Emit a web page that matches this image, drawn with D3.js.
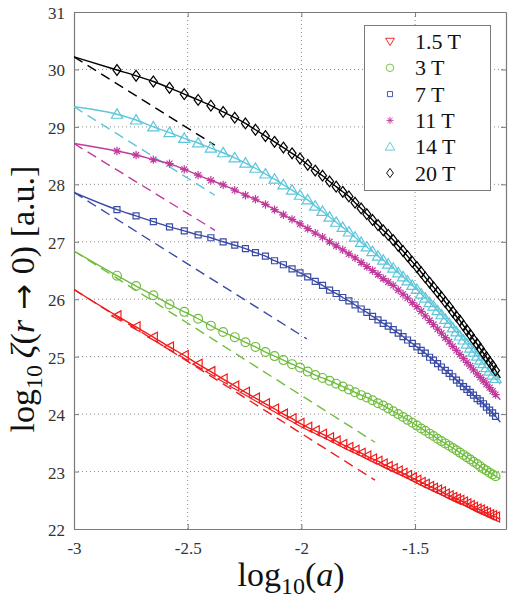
<!DOCTYPE html>
<html><head><meta charset="utf-8">
<script src="https://cdn.jsdelivr.net/npm/d3@7"></script>
<style>body{margin:0;background:#fff;}</style>
</head><body>
<svg id="chart" width="512" height="602"></svg>
<script>
// ---------------- data ----------------
const seriesNames = ["1.5 T", "3 T", "7 T", "11 T", "14 T", "20 T"];
const seriesColors = ["#f01c1c", "#70bd3e", "#3a4ca6", "#c03a9c", "#5ec6da", "#000000"];
const seriesMarkers = ["triLeft", "circle", "square", "star", "triUp", "diamond"];
const legendMarkers = ["triDown", "circle", "square", "star", "triUp", "diamond"];

// log10(a) positions of the markers (shared by all series)
const xMarkers = [-2.811,-2.727,-2.651,-2.580,-2.515,-2.454,-2.398,-2.344,-2.293,-2.246,
  -2.202,-2.158,-2.118,-2.079,-2.041,-2.006,-1.972,-1.939,-1.907,-1.876,
  -1.847,-1.818,-1.791,-1.764,-1.737,-1.712,-1.687,-1.663,-1.640,-1.618,
  -1.596,-1.574,-1.553,-1.533,-1.512,-1.492,-1.473,-1.455,-1.436,-1.419,
  -1.401,-1.384,-1.367,-1.350,-1.334,-1.318,-1.303,-1.287,-1.272,-1.257,
  -1.243,-1.227,-1.213,-1.199,-1.186,-1.172,-1.159,-1.146];

const y1p5T = [25.71,25.52,25.34,25.17,25.02,24.87,24.74,24.61,24.49,24.38,
  24.28,24.18,24.09,24.00,23.92,23.84,23.77,23.71,23.65,23.59,
  23.53,23.47,23.42,23.37,23.32,23.27,23.22,23.18,23.13,23.09,
  23.05,23.01,22.97,22.93,22.89,22.85,22.81,22.78,22.74,22.71,
  22.68,22.65,22.61,22.58,22.55,22.52,22.50,22.47,22.44,22.41,
  22.38,22.35,22.33,22.30,22.28,22.25,22.23,22.21];
const y3T = [26.41,26.23,26.07,25.91,25.78,25.66,25.54,25.43,25.34,25.25,
  25.17,25.08,25.01,24.94,24.87,24.81,24.74,24.68,24.63,24.58,
  24.53,24.48,24.43,24.38,24.33,24.29,24.24,24.19,24.15,24.10,
  24.05,24.00,23.95,23.90,23.85,23.80,23.75,23.71,23.66,23.62,
  23.57,23.53,23.49,23.45,23.41,23.37,23.33,23.29,23.25,23.21,
  23.17,23.13,23.09,23.05,23.02,22.98,22.95,22.92];
const y7T = [27.56,27.45,27.35,27.26,27.19,27.12,27.07,27.00,26.94,26.88,
  26.81,26.75,26.67,26.60,26.53,26.46,26.39,26.31,26.24,26.16,
  26.10,26.03,25.97,25.90,25.83,25.77,25.70,25.64,25.58,25.53,
  25.47,25.41,25.35,25.29,25.23,25.17,25.11,25.06,24.99,24.94,
  24.88,24.82,24.76,24.71,24.65,24.59,24.54,24.48,24.43,24.38,
  24.33,24.27,24.23,24.18,24.12,24.07,24.02,23.96];
const y11T = [28.58,28.51,28.43,28.36,28.26,28.16,28.07,27.99,27.90,27.81,
  27.74,27.65,27.56,27.47,27.39,27.31,27.23,27.15,27.08,27.00,
  26.93,26.86,26.79,26.72,26.64,26.57,26.50,26.43,26.36,26.30,
  26.24,26.16,26.09,26.02,25.94,25.87,25.79,25.71,25.63,25.56,
  25.48,25.41,25.33,25.26,25.18,25.11,25.04,24.97,24.90,24.84,
  24.77,24.70,24.64,24.58,24.52,24.46,24.40,24.34];
const y14T = [29.22,29.12,29.00,28.90,28.80,28.72,28.63,28.55,28.46,28.37,
  28.28,28.18,28.09,27.99,27.90,27.81,27.73,27.62,27.53,27.43,
  27.34,27.25,27.17,27.08,26.99,26.91,26.83,26.75,26.68,26.61,
  26.54,26.46,26.39,26.32,26.24,26.17,26.09,26.02,25.94,25.88,
  25.80,25.73,25.65,25.58,25.50,25.43,25.36,25.29,25.22,25.15,
  25.08,25.01,24.94,24.88,24.81,24.75,24.68,24.62];
const y20T = [29.99,29.89,29.79,29.68,29.57,29.47,29.37,29.26,29.16,29.06,
  28.95,28.84,28.74,28.64,28.54,28.45,28.34,28.24,28.15,28.05,
  27.96,27.87,27.79,27.68,27.58,27.48,27.38,27.29,27.20,27.12,
  27.03,26.93,26.84,26.75,26.65,26.56,26.47,26.38,26.29,26.21,
  26.12,26.04,25.95,25.87,25.78,25.70,25.63,25.54,25.46,25.38,
  25.30,25.22,25.14,25.06,24.99,24.91,24.84,24.76];
const seriesValues = [y1p5T, y3T, y7T, y11T, y14T, y20T];

// solid fitted lines: start and end
const lineStartX = -3, lineEndX = -1.125;
const lineStartY = [26.17, 26.84, 27.86, 28.71, 29.35, 30.22];
const lineEndY   = [22.17, 22.87, 23.86, 24.25, 24.52, 24.63];

// dashed asymptotes
const dashStartX = -3;
const dashEndX   = [-1.676, -1.676, -1.976, -2.38, -2.38, -2.38];
const dashStartY = [26.17, 26.84, 27.86, 28.71, 29.35, 30.22];
const dashEndY   = [22.85, 23.51, 25.31, 27.20, 27.81, 28.68];

const xTicks = [-3, -2.5, -2, -1.5];
const xTickLabels = ["-3", "-2.5", "-2", "-1.5"];
const yTicks = [22, 23, 24, 25, 26, 27, 28, 29, 30, 31];
const yTickLabels = ["22","23","24","25","26","27","28","29","30","31"];

// ---------------- drawing ----------------
const svg = d3.select("#chart");
const L = 74, R = 506, T = 12, B = 529;
const x = d3.scaleLinear().domain([-3, -1.1]).range([L, R]);
const y = d3.scaleLinear().domain([22, 31]).range([B, T]);
const serif = "'Liberation Serif','DejaVu Serif',serif";
const axisGray = "#7a7a7a";

svg.append("rect").attr("x",0).attr("y",0).attr("width",512).attr("height",602).attr("fill","#fff");

// grid
const grid = svg.append("g").attr("stroke", "#8a8a8a").attr("stroke-width", 1).attr("stroke-dasharray", "1,3");
xTicks.slice(1).forEach(t => grid.append("line").attr("x1", x(t)).attr("x2", x(t)).attr("y1", T).attr("y2", B));
yTicks.slice(1, -1).forEach(t => grid.append("line").attr("x1", L).attr("x2", R).attr("y1", y(t)).attr("y2", y(t)));

// axes with d3 axis generators (inward ticks)
const fmtX = (d, i) => xTickLabels[i];
const fmtY = (d, i) => yTickLabels[i];
const gx = svg.append("g").attr("transform", `translate(0,${B})`)
  .call(d3.axisBottom(x).tickValues(xTicks).tickFormat(fmtX).tickSizeInner(-5).tickSizeOuter(0).tickPadding(10));
const gy = svg.append("g").attr("transform", `translate(${L},0)`)
  .call(d3.axisLeft(y).tickValues(yTicks).tickFormat(fmtY).tickSizeInner(-5).tickSizeOuter(0).tickPadding(9));
const gxt = svg.append("g").attr("transform", `translate(0,${T})`)
  .call(d3.axisTop(x).tickValues(xTicks).tickFormat("").tickSizeInner(-5).tickSizeOuter(0));
const gyr = svg.append("g").attr("transform", `translate(${R},0)`)
  .call(d3.axisRight(y).tickValues(yTicks).tickFormat("").tickSizeInner(-5).tickSizeOuter(0));
[gx, gy, gxt, gyr].forEach(g => {
  g.selectAll("path.domain").attr("stroke", axisGray).attr("stroke-width", 1.2);
  g.selectAll(".tick line").attr("stroke", axisGray);
  g.selectAll("text").attr("font-family", serif).attr("font-size", 17).attr("fill", "#333");
});
gx.selectAll("text").attr("dy", "0.9em");
gy.selectAll("text").attr("dy", "0.38em");

// clip
svg.append("clipPath").attr("id", "clip").append("rect").attr("x", L).attr("y", T).attr("width", R - L).attr("height", B - T);
const plot = svg.append("g").attr("clip-path", "url(#clip)");

// dashed lines
seriesNames.forEach((n, i) => {
  plot.append("line")
    .attr("x1", x(dashStartX)).attr("y1", y(dashStartY[i]))
    .attr("x2", x(dashEndX[i])).attr("y2", y(dashEndY[i]))
    .attr("stroke", seriesColors[i]).attr("stroke-width", 1.4).attr("stroke-dasharray", "10,6");
});

// solid lines
const lineGen = d3.line().x(d => x(d[0])).y(d => y(d[1])).curve(d3.curveMonotoneX);
seriesNames.forEach((n, i) => {
  const pts = [[lineStartX, lineStartY[i]]].concat(xMarkers.map((xv, k) => [xv, seriesValues[i][k]])).concat([[lineEndX, lineEndY[i]]]);
  plot.append("path").attr("d", lineGen(pts)).attr("fill", "none")
    .attr("stroke", seriesColors[i]).attr("stroke-width", 1.4);
});

// marker shapes
function markerPath(type) {
  switch (type) {
    case "triLeft": return "M-5.2,0L4,-5L4,5Z";
    case "triDown": return "M0,4.8L5.2,-3.8L-5.2,-3.8Z";
    case "triUp": return "M0,-5.4L5.6,4L-5.6,4Z";
    case "circle": return d3.arc()({innerRadius:0, outerRadius:4.4, startAngle:0, endAngle:2*Math.PI});
    case "square": return "M-3,-3H3V3H-3Z";
    case "diamond": return "M0,-5.4L4,0L0,5.4L-4,0Z";
    case "star": {
      const r = 4.2, r2 = 3;
      return `M0,-${r}V${r}M-${r},0H${r}M-${r2},-${r2}L${r2},${r2}M-${r2},${r2}L${r2},-${r2}`;
    }
  }
}

seriesNames.forEach((n, i) => {
  plot.append("g").selectAll("path").data(xMarkers.map((xv, k) => [xv, seriesValues[i][k]]))
    .join("path")
    .attr("transform", d => `translate(${x(d[0])},${y(d[1])})`)
    .attr("d", markerPath(seriesMarkers[i]))
    .attr("fill", "none").attr("stroke", seriesColors[i]).attr("stroke-width", 1.2);
});

// legend
const lg = svg.append("g");
lg.append("rect").attr("x", 364.5).attr("y", 25.5).attr("width", 126).attr("height", 165)
  .attr("fill", "#fff").attr("stroke", axisGray).attr("stroke-width", 1);
seriesNames.forEach((n, i) => {
  const yy = 41.5 + i * 26.3;
  lg.append("path").attr("d", markerPath(legendMarkers[i]))
    .attr("fill", "none").attr("stroke", seriesColors[i]).attr("stroke-width", 1.1)
    .attr("transform", `translate(390,${yy}) scale(0.85)`);
  lg.append("text").attr("x", 415).attr("y", yy + 7.5).attr("font-family", serif).attr("font-size", 22)
    .attr("fill", "#111").text(n);
});

// axis labels
const xl = svg.append("text").attr("x", 291).attr("y", 586).attr("text-anchor", "middle")
  .attr("font-family", serif).attr("font-size", 34).attr("fill", "#111");
xl.append("tspan").text("log");
xl.append("tspan").attr("font-size", 24).attr("dy", 8).text("10");
xl.append("tspan").attr("dy", -8).text("(");
xl.append("tspan").attr("font-style", "italic").text("a");
xl.append("tspan").text(")");

const yl = svg.append("text").attr("transform", "translate(34,299) rotate(-90)").attr("text-anchor", "middle")
  .attr("font-family", serif).attr("font-size", 34).attr("fill", "#111");
yl.append("tspan").text("log");
yl.append("tspan").attr("font-size", 24).attr("dy", 8).text("10");
yl.append("tspan").attr("dy", -8).attr("font-style", "italic").text("\u2009\u03B6");
yl.append("tspan").text("(");
yl.append("tspan").attr("font-style", "italic").text("r");
yl.append("tspan").attr("font-family", "'DejaVu Sans',sans-serif").attr("font-size", 31).text(" \u2192 ");
yl.append("tspan").text("0)  [a.u.]");
</script>
</body></html>
